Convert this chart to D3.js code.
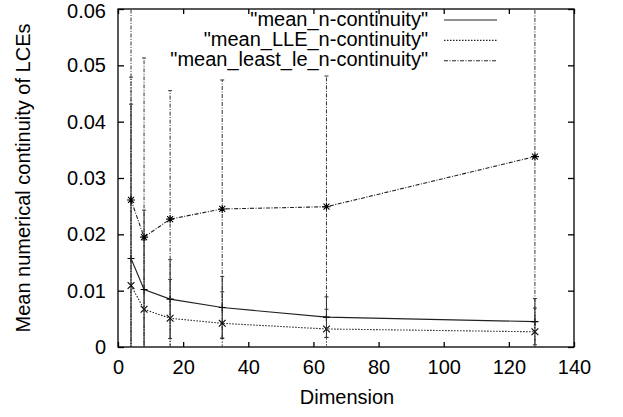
<!DOCTYPE html>
<html>
<head>
<meta charset="utf-8">
<script src="https://cdn.jsdelivr.net/npm/d3@7"></script>
<style>
  body { margin: 0; background: #fff; }
  text { font-family: "Liberation Sans", Arial, sans-serif; font-size: 20px; fill: #000; }
</style>
</head>
<body>
<div id="chart"></div>
<script>
// Daten
var dims = [4, 8, 16, 32, 64, 128];
var meanN = [0.0157, 0.0102, 0.0085, 0.0070, 0.0053, 0.0045];
var errN = [0.0274, 0.0141, 0.0070, 0.0055, 0.0036, 0.0041];
var meanLLE = [0.0109, 0.0067, 0.0051, 0.0042, 0.0032, 0.0027];
var errLLE = [0.0370, 0.0123, 0.0069, 0.0056, 0.0035, 0.0042];
var meanLeast = [0.0261, 0.0195, 0.0227, 0.0245, 0.0249, 0.0338];
var errLeast = [0.0450, 0.0318, 0.0228, 0.0229, 0.0232, 0.0400];
var seriesNames = ['"mean_n-continuity"', '"mean_LLE_n-continuity"', '"mean_least_le_n-continuity"'];
var xTicks = [0, 20, 40, 60, 80, 100, 120, 140];
var yTicks = [0, 0.01, 0.02, 0.03, 0.04, 0.05, 0.06];

var margin = { top: 9, right: 49, bottom: 70, left: 118 };
var width = 623 - margin.left - margin.right;
var height = 417 - margin.top - margin.bottom;

var svg = d3.select("#chart").append("svg")
  .attr("width", 623)
  .attr("height", 417)
  .append("g")
  .attr("transform", "translate(" + margin.left + "," + margin.top + ")");

var x = d3.scaleLinear().domain([0, 140]).range([0, width]);
var y = d3.scaleLinear().domain([0, 0.06]).range([height, 0]);

svg.append("clipPath").attr("id", "clip")
  .append("rect").attr("width", width).attr("height", height);

// Achsen (Ticks nach innen)
var xAxis = d3.axisBottom(x).tickValues(xTicks).tickFormat(d3.format("d")).tickSizeInner(-5).tickSizeOuter(0).tickPadding(13);
var yAxis = d3.axisLeft(y).tickValues(yTicks).tickFormat(function (d) { return d === 0 ? "0" : d3.format(".2f")(d); })
  .tickSizeInner(-6).tickSizeOuter(0).tickPadding(12);

svg.append("g").attr("class", "x axis").attr("transform", "translate(0," + height + ")").call(xAxis);
svg.append("g").attr("class", "y axis").call(yAxis);
svg.append("g").attr("class", "x2 axis").call(d3.axisTop(x).tickValues(xTicks).tickSizeInner(-5).tickSizeOuter(0).tickFormat(""));
svg.append("g").attr("class", "y2 axis").attr("transform", "translate(" + width + ",0)")
  .call(d3.axisRight(y).tickValues(yTicks).tickSizeInner(-6).tickSizeOuter(0).tickFormat(""));

svg.selectAll(".axis .domain").remove();
svg.selectAll(".axis line").attr("stroke", "#000").attr("stroke-width", 1.3);
svg.selectAll(".axis text").style("font-size", "20px").attr("fill", "#000");
// oberstes Label etwas tiefer, damit es nicht abgeschnitten wird
svg.selectAll(".y.axis .tick text").filter(function (d) { return d === 0.06; }).attr("dy", "0.4em");

svg.append("rect")
  .attr("width", width).attr("height", height)
  .attr("fill", "none").attr("stroke", "#000").attr("stroke-width", 1.3);

// Achsentitel
svg.append("text")
  .attr("x", width / 2 + 1).attr("y", 404 - margin.top)
  .attr("text-anchor", "middle")
  .text("Dimension");

svg.append("text")
  .attr("transform", "translate(" + (29.5 - margin.left) + "," + (height / 2) + ") rotate(-90)")
  .attr("text-anchor", "middle")
  .text("Mean numerical continuity of LCEs");

// Markierungen: +, x, *
function marker(type, r) {
  var p = "";
  if (type === "plus" || type === "star") p += "M" + (-r) + ",0H" + r + "M0," + (-r) + "V" + r;
  if (type === "cross" || type === "star") {
    var k = r * 0.75;
    p += "M" + (-k) + "," + (-k) + "L" + k + "," + k + "M" + (-k) + "," + k + "L" + k + "," + (-k);
  }
  return p;
}

var series = [
  { name: seriesNames[0], mean: meanN, err: errN, dash: null, mark: "plus", r: 3.5 },
  { name: seriesNames[1], mean: meanLLE, err: errLLE, dash: "1.5,1.5", mark: "cross", r: 4.5 },
  { name: seriesNames[2], mean: meanLeast, err: errLeast, dash: "4,1.5,1,1.5", mark: "star", r: 4 }
];

var plot = svg.append("g").attr("clip-path", "url(#clip)");

var line = d3.line()
  .x(function (d) { return x(d.dim); })
  .y(function (d) { return y(d.val); });

series.forEach(function (s) {
  var pts = dims.map(function (d, i) { return { dim: d, val: s.mean[i], err: s.err[i] }; });
  var g = plot.append("g");

  // Fehlerbalken
  g.selectAll(".bar").data(pts).enter().append("line")
    .attr("x1", function (d) { return x(d.dim); })
    .attr("x2", function (d) { return x(d.dim); })
    .attr("y1", function (d) { return y(d.val - d.err); })
    .attr("y2", function (d) { return y(d.val + d.err); })
    .attr("stroke", "#333").attr("stroke-width", 1)
    .attr("stroke-dasharray", s.dash);

  // Kappen oben und unten
  ["hi", "lo"].forEach(function (side) {
    g.selectAll(".cap-" + side).data(pts).enter().append("line")
      .attr("x1", function (d) { return x(d.dim) - 2; })
      .attr("x2", function (d) { return x(d.dim) + 2; })
      .attr("y1", function (d) { return y(side === "hi" ? d.val + d.err : d.val - d.err); })
      .attr("y2", function (d) { return y(side === "hi" ? d.val + d.err : d.val - d.err); })
      .attr("stroke", "#333").attr("stroke-width", 1);
  });

  g.append("path").datum(pts)
    .attr("d", line)
    .attr("fill", "none")
    .attr("stroke", "#222").attr("stroke-width", 1.1)
    .attr("stroke-dasharray", s.dash);

  g.selectAll(".pt").data(pts).enter().append("path")
    .attr("transform", function (d) { return "translate(" + x(d.dim) + "," + y(d.val) + ")"; })
    .attr("d", marker(s.mark, s.r))
    .attr("fill", "none")
    .attr("stroke", "#000").attr("stroke-width", 1.1);
});

// Legende
var legend = svg.append("g").attr("class", "legend");
series.forEach(function (s, i) {
  var ly = 20 + i * 20.4 - margin.top;
  legend.append("text")
    .attr("x", 428 - margin.left).attr("y", ly + 5.5)
    .attr("text-anchor", "end")
    .text(s.name);
  legend.append("line")
    .attr("x1", 444 - margin.left).attr("x2", 497 - margin.left)
    .attr("y1", ly).attr("y2", ly)
    .attr("stroke", "#222").attr("stroke-width", 1.1)
    .attr("stroke-dasharray", s.dash);
});
</script>
</body>
</html>
